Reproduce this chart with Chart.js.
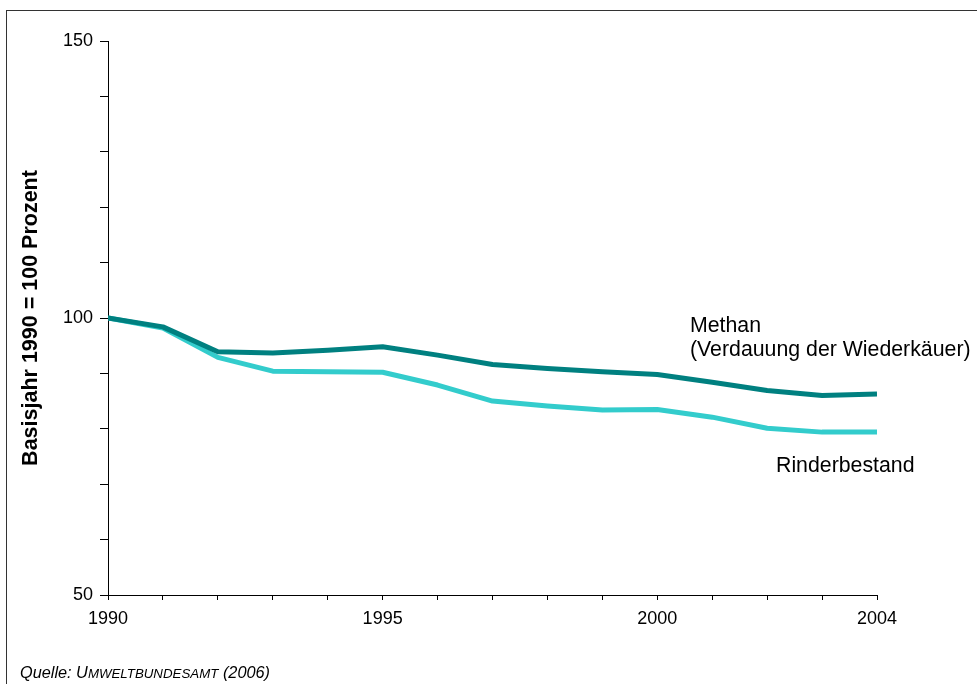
<!DOCTYPE html>
<html>
<head>
<meta charset="utf-8">
<script src="https://cdn.jsdelivr.net/npm/chart.js@4"></script>
<style>
  html, body { margin: 0; padding: 0; background: #fff; }
  #wrap { position: relative; width: 977px; height: 684px; overflow: hidden; font-family: "Liberation Sans", Arial, sans-serif; }
  #frame { position: absolute; left: 6px; top: 10px; width: 1200px; height: 900px; border-left: 1px solid #333; border-top: 1px solid #333; }
  #c { position: absolute; left: 0; top: 0; }
  .ann { position: absolute; font-size: 21.3px; line-height: 24px; color: #000; white-space: nowrap; }
  #src { position: absolute; left: 20px; top: 664px; font-size: 16.3px; line-height: 16px; font-style: italic; color: #000; white-space: nowrap; }
  .sc { font-size: 13.3px; }
</style>
</head>
<body>
<div id="wrap">
  <div id="frame"></div>
  <canvas id="c" width="977" height="684"></canvas>
  <div class="ann" style="left:690px; top:313px;">Methan<br>(Verdauung der Wiederkäuer)</div>
  <div class="ann" style="left:776px; top:453px;">Rinderbestand</div>
  <div id="src">Quelle: U<span class="sc">MWELTBUNDESAMT</span> (2006)</div>
</div>
<script>
const years = [1990,1991,1992,1993,1994,1995,1996,1997,1998,1999,2000,2001,2002,2003,2004];
const methan = [100,98.4,93.9,93.7,94.2,94.8,93.3,91.6,90.9,90.3,89.8,88.4,86.9,86.0,86.3];
const rinderbestand = [100,98.2,92.9,90.4,90.3,90.2,87.9,85.0,84.1,83.4,83.5,82.1,80.1,79.4,79.4];
const xTickLabels = [1990,1995,2000,2004];
const yTickLabels = [50,100,150];
const yTitle = 'Basisjahr 1990 = 100 Prozent';

const toPts = arr => years.map((y,i) => ({x: y, y: arr[i]}));

new Chart(document.getElementById('c'), {
  type: 'line',
  data: {
    datasets: [
      { label: 'Methan', data: toPts(methan), borderColor: '#008080', borderWidth: 5, pointRadius: 0, tension: 0, borderCapStyle: 'butt', borderJoinStyle: 'round', fill: false },
      { label: 'Rinderbestand', data: toPts(rinderbestand), borderColor: '#33CCCC', borderWidth: 5, pointRadius: 0, tension: 0, borderCapStyle: 'butt', borderJoinStyle: 'round', fill: false }
    ]
  },
  options: {
    responsive: false,
    animation: false,
    events: [],
    layout: { padding: { top: 41, right: 100, bottom: 0, left: 0 } },
    plugins: { legend: { display: false }, tooltip: { enabled: false } },
    scales: {
      x: {
        type: 'linear',
        min: 1990, max: 2004,
        afterFit: s => { s.height = 89; },
        border: { display: true, color: '#000', width: 1 },
        grid: { drawOnChartArea: false, drawTicks: true, tickLength: 5, color: '#000', lineWidth: 1 },
        ticks: {
          stepSize: 1, autoSkip: false, maxRotation: 0, padding: 8,
          color: '#000', font: { family: '"Liberation Sans", Arial, sans-serif', size: 18 },
          callback: v => xTickLabels.includes(v) ? String(v) : ''
        }
      },
      y: {
        min: 50, max: 150,
        afterFit: s => { s.width = 108; },
        border: { display: true, color: '#000', width: 1 },
        grid: { drawOnChartArea: false, drawTicks: true, tickLength: 8, color: '#000', lineWidth: 1 },
        ticks: {
          stepSize: 10, autoSkip: false, padding: 7,
          color: '#000', font: { family: '"Liberation Sans", Arial, sans-serif', size: 18 },
          callback: v => yTickLabels.includes(v) ? String(v) : ''
        },
        title: {
          display: true, text: yTitle, color: '#000',
          font: { family: '"Liberation Sans", Arial, sans-serif', size: 21.5, weight: 'bold' },
          padding: { top: 18, bottom: 0 }
        }
      }
    }
  }
});
</script>
</body>
</html>
